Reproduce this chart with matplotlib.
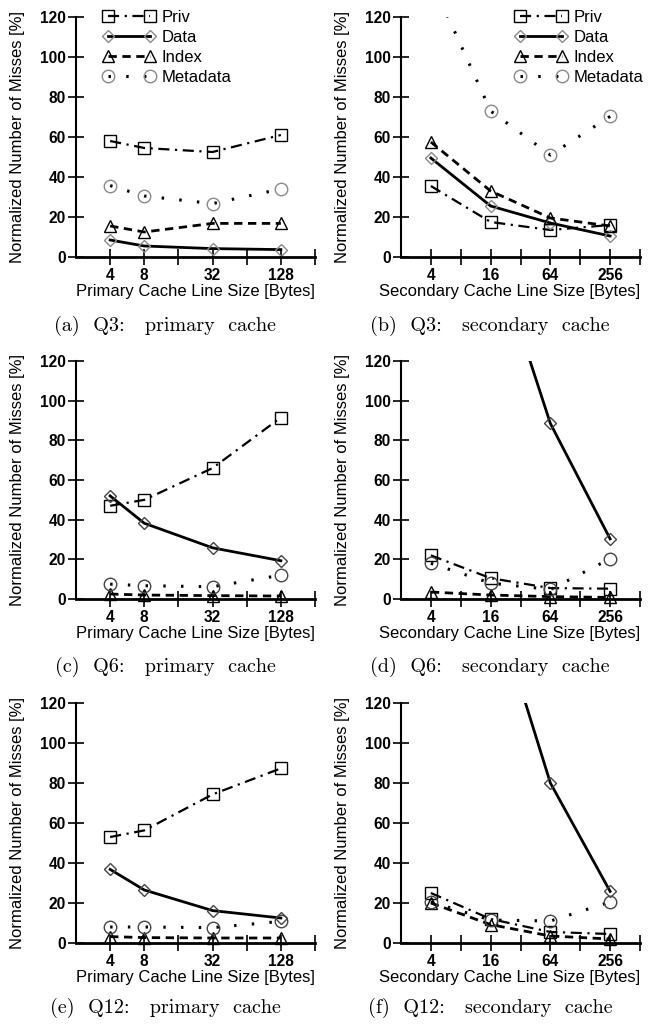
import numpy as np
import matplotlib
matplotlib.use("Agg")
import matplotlib.pyplot as plt
from matplotlib.patches import Rectangle

# cache line sizes (bytes)
primary_sizes = [4, 8, 32, 128]
secondary_sizes = [4, 16, 64, 256]

series_names = ["Priv", "Data", "Index", "Metadata"]

# normalized number of misses [%]
q3_primary_priv = [58, 54.5, 52.5, 61]
q3_primary_data = [8.5, 5.5, 4.2, 3.7]
q3_primary_index = [15.5, 12.5, 16.8, 16.8]
q3_primary_meta = [35.7, 30.5, 26.7, 34]

q3_secondary_priv = [35.5, 17.5, 13.5, 16]
q3_secondary_data = [49.5, 25.5, 17, 10.5]
q3_secondary_index = [57.5, 33, 19.5, 15.5]
q3_secondary_meta = [139, 73, 51, 70.3]

q6_primary_priv = [47, 50, 66, 91.5]
q6_primary_data = [52, 38.2, 25.8, 19.3]
q6_primary_index = [2.5, 2, 1.7, 1.5]
q6_primary_meta = [7.5, 6.7, 6.2, 12]

# data at 4 bytes is off the chart (not readable)
q6_secondary_priv = [22, 10.5, 5.5, 5.2]
q6_secondary_data = [np.nan, 181, 88.5, 30.3]
q6_secondary_index = [3.5, 2, 1.2, 0.8]
q6_secondary_meta = [18, 8, 4.8, 20.3]

q12_primary_priv = [53, 56.3, 74.3, 87.3]
q12_primary_data = [36.8, 26.5, 16.2, 12.5]
q12_primary_index = [3.2, 2.7, 2.5, 2.5]
q12_primary_meta = [8, 8, 7.7, 10.8]

q12_secondary_priv = [25, 12, 5.5, 4.5]
q12_secondary_data = [np.nan, 176, 80, 25.8]
q12_secondary_index = [20, 9.2, 3.5, 2]
q12_secondary_meta = [20.5, 11.5, 11, 20.5]

captions = ["(a)  Q3:   primary  cache", "(b)  Q3:   secondary  cache",
            "(c)  Q6:   primary  cache", "(d)  Q6:   secondary  cache",
            "(e)  Q12:   primary  cache", "(f)  Q12:   secondary  cache"]

panels = [
    (primary_sizes, [q3_primary_priv, q3_primary_data, q3_primary_index, q3_primary_meta]),
    (secondary_sizes, [q3_secondary_priv, q3_secondary_data, q3_secondary_index, q3_secondary_meta]),
    (primary_sizes, [q6_primary_priv, q6_primary_data, q6_primary_index, q6_primary_meta]),
    (secondary_sizes, [q6_secondary_priv, q6_secondary_data, q6_secondary_index, q6_secondary_meta]),
    (primary_sizes, [q12_primary_priv, q12_primary_data, q12_primary_index, q12_primary_meta]),
    (secondary_sizes, [q12_secondary_priv, q12_secondary_data, q12_secondary_index, q12_secondary_meta]),
]

plt.rcParams["font.family"] = "Liberation Sans"

fig = plt.figure(figsize=(6.54, 10.25), dpi=100)
W, H = 654.0, 1025.0

# axes boxes in pixels
col_x = [(76, 315), (401, 640)]
row_y = [(17, 257), (361, 599), (703, 943)]
cap_y = [326, 667, 1008]
cap_x = [165, 490]

for i, (sizes, vals) in enumerate(panels):
    r, c = divmod(i, 2)
    x0, x1 = col_x[c]
    y0, y1 = row_y[r]
    ax = fig.add_axes([x0 / W, 1 - y1 / H, (x1 - x0) / W, (y1 - y0) / H])
    gray = "#8a8a8a" if r == 0 else "#444444"

    styles = [
        dict(ls=(0, (5, 2.5, 1, 2.5)), lw=1.6, marker="s", ms=8.5, mec="black"),
        dict(ls="-", lw=2.0, marker="D", ms=6.5, mec=gray),
        dict(ls=(0, (3, 2)), lw=2.0, marker="^", ms=9, mec="black"),
        dict(ls=(0, (0.8, 5)), lw=2.2, marker="o", ms=9, mec=gray),
    ]
    clip = Rectangle((0, -0.08), 1, 1.08, transform=ax.transAxes, visible=False)
    ax.add_patch(clip)
    for name, v, st in zip(series_names, vals, styles):
        ln, = ax.plot(sizes, v, color="black", mfc="none", mew=1.0,
                      label=name, **st)
        ln.set_clip_path(clip)

    ax.set_xscale("log", base=2)
    if c == 0:
        ticks = [4, 8, 16, 32, 64, 128, 256]
        shown = primary_sizes
        ax.set_xlim(2, 256)
        ax.set_xlabel("Primary Cache Line Size [Bytes]", fontsize=12)
    else:
        ticks = [4, 8, 16, 32, 64, 128, 256, 512]
        shown = secondary_sizes
        ax.set_xlim(2, 512)
        ax.set_xlabel("Secondary Cache Line Size [Bytes]", fontsize=12)
    ax.xaxis.set_label_coords(1.0, -0.113)
    ax.xaxis.label.set_horizontalalignment("right")
    ax.set_xticks(ticks)
    ax.set_xticklabels([str(t) if t in shown else "" for t in ticks])
    ax.minorticks_off()
    ax.set_ylim(0, 120)
    ax.set_yticks(range(0, 121, 20))
    ax.set_ylabel("Normalized Number of Misses [%]", fontsize=12)
    ax.yaxis.set_label_coords(-0.213, 0.5)

    for sp in ["top", "right"]:
        ax.spines[sp].set_visible(False)
    ax.spines["left"].set_linewidth(1.5)
    ax.spines["bottom"].set_linewidth(2.0)
    ax.tick_params(axis="x", direction="inout", length=12, width=1.2, pad=2.2)
    ax.tick_params(axis="y", direction="inout", length=12, width=1.2, pad=1.5)
    for lab in ax.get_xticklabels() + ax.get_yticklabels():
        lab.set_fontweight("bold")
        lab.set_fontsize(11.2)

    if r == 0:
        anchor = (0.113, 1.03) if c == 0 else (0.477, 1.03)
        ax.legend(loc="upper left", bbox_to_anchor=anchor, frameon=False,
                  numpoints=2, handlelength=3.1, handletextpad=0.4,
                  labelspacing=0.3, borderpad=0, borderaxespad=0,
                  fontsize=12)

    fig.text(cap_x[c] / W, 1 - cap_y[r] / H, captions[i], ha="center",
             va="center", family="cmr10", fontsize=14.5)

fig.savefig("out.png", dpi=100)
